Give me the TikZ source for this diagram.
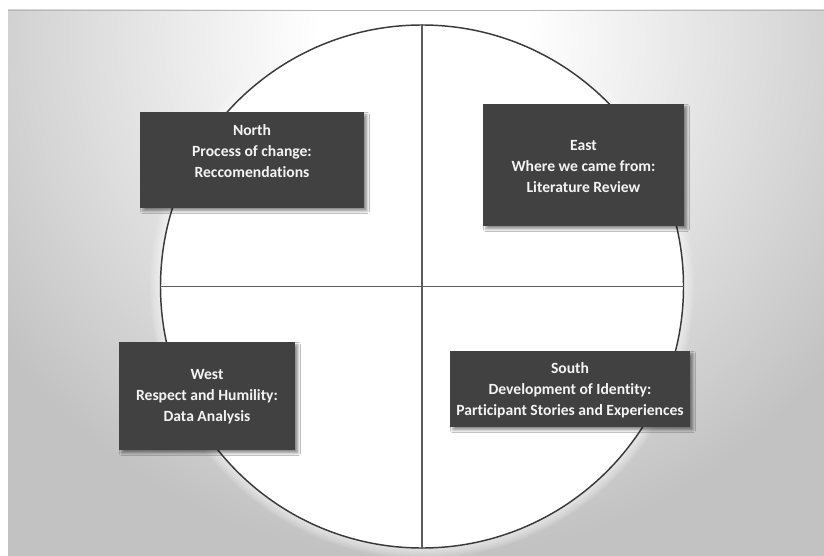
\documentclass[tikz,border=0pt]{standalone}
\usepackage{fontspec}
\setmainfont{Carlito}[Ligatures={NoCommon}]
\usetikzlibrary{shadows.blur}

% one unit = one pixel of the 824 x 556 canvas
\newlength\unitpx
\setlength\unitpx{0.75pt}

\definecolor{bggray}{HTML}{C2C2C2}
\definecolor{edgegray}{HTML}{B8B8B8}
\definecolor{rimcolor}{HTML}{3A3A3A}
\definecolor{crosscolor}{HTML}{5C5C5C}
\definecolor{cardfill}{HTML}{414141}
\definecolor{cardtext}{HTML}{F4F4F4}

% light spot fading to grey: 25bp lands on the edge of the shaded disc
\pgfdeclareradialshading{backdrop}{\pgfpointorigin}{%
  color(0bp)=(white); color(5bp)=(white); color(25bp)=(bggray); color(50bp)=(bggray)}

\tikzset{
  card/.style={rectangle, fill=cardfill, draw=none, inner sep=0pt,
    blur shadow={shadow xshift=2.2pt, shadow yshift=-2.2pt,
      shadow blur radius=2pt, shadow opacity=45}},
  cardlabel/.style={text=cardtext, align=center, inner sep=0pt,
    font=\fontsize{11.7pt}{15.75pt}\selectfont\bfseries},
  wheel/.style={circle, fill=white, draw=rimcolor, line width=1.1pt,
    minimum size=523\unitpx, inner sep=0pt},
  cross/.style={draw=crosscolor, line width=1.4pt},
}

\begin{document}
\begin{tikzpicture}[x=\unitpx, y=-\unitpx]
\useasboundingbox (0,0) rectangle (824,556);

% backdrop panel with a soft light spot near the top
\begin{scope}
  \clip (8,10) rectangle (824,556);
  \fill[bggray] (8,10) rectangle (824,556);
  \shade[shading=backdrop] (422,40) circle[radius=520\unitpx];
\end{scope}
\draw[edgegray, line width=0.9pt] (8,10.4) -- (824,10.4);

% soft white halo round the wheel
\foreach \w in {1,...,8}
  \draw[white, opacity=0.09, line width=2.6*\w\unitpx] (422,286.5) circle[radius=261.5\unitpx];

% the wheel and its four quadrants
\node[wheel] (wheel) at (422,286.5) {};
\draw[cross] (wheel.north) -- (wheel.south);
\draw[cross] (wheel.west) -- (wheel.east);

% direction cards
\node[card, minimum width=224\unitpx, minimum height=96\unitpx] (north) at (252,160) {};
\node[cardlabel] (north-text) at (252,151) {North\\Process of change:\\Reccomendations};

\node[card, minimum width=201\unitpx, minimum height=122\unitpx] (east) at (583.5,165) {};
\node[cardlabel] (east-text) at (583.5,166) {East\\Where we came from:\\Literature Review};

\node[card, minimum width=176\unitpx, minimum height=108\unitpx] (west) at (207,396) {};
\node[cardlabel] (west-text) at (207,397) {West\\Respect and Humility:\\Data Analysis};

\node[card, minimum width=240\unitpx, minimum height=76\unitpx] (south) at (570,389) {};
\node[cardlabel] (south-text) at (570,390) {South\\Development of Identity:\\Participant Stories and Experiences};
\end{tikzpicture}
\end{document}
